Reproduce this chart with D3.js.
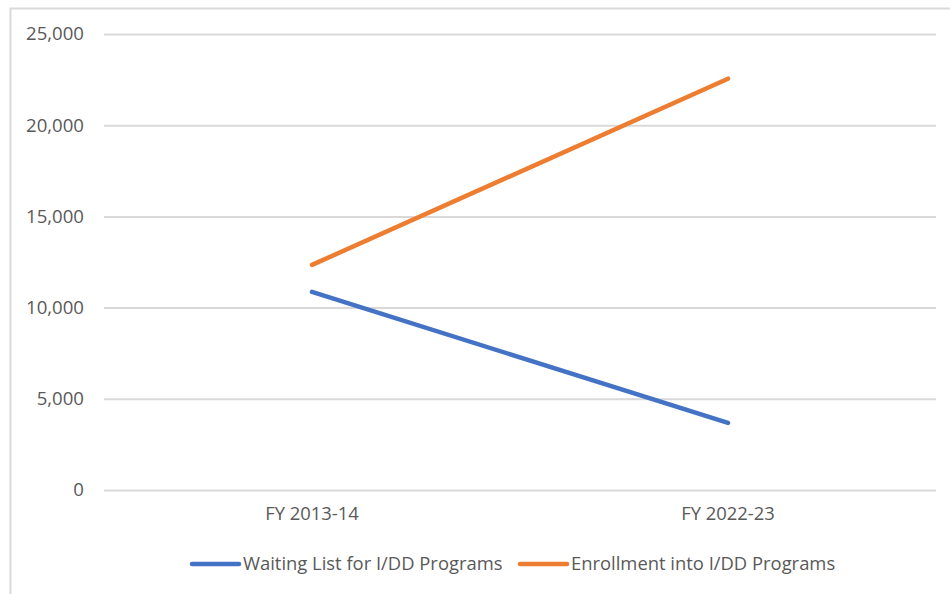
<!doctype html>
<html>
<head>
  <meta charset="utf8">
  <title>I/DD waiting list vs enrollment</title>
  <style>
    body {
      margin: 0;
      padding: 0;
      background: #fff;
    }
    svg text {
      font-family: "Open Sans", sans-serif;
      fill: #595959;
    }
  </style>
</head>
<body>
  <svg id="chart"></svg>

  <script src="https://d3js.org/d3.v7.min.js"></script>
  <script>
    // values
    const categories = ['FY 2013-14', 'FY 2022-23']
    const seriesNames = ['Waiting List for I/DD Programs', 'Enrollment into I/DD Programs']
    const waitingList = [10860, 3680]
    const enrollment = [12340, 22550]
    const yTicks = [0, 5000, 10000, 15000, 20000, 25000]
    const colors = ['#4472C4', '#ED7D31']

    const width = 950
    const height = 594
    const margin = { top: 34, right: 14, bottom: 104, left: 104 }
    const fontSize = '18.4px'

    const svg = d3.select('#chart')
      .attr('width', width)
      .attr('height', height)

    // chart frame (only top and left edges are visible in the picture)
    svg.append('path')
      .attr('d', `M10.5,${height}V8.5H${width}`)
      .style('fill', 'none')
      .style('stroke', '#d9d9d9')
      .style('stroke-width', 2)

    const x = d3.scaleBand()
      .domain(categories)
      .range([margin.left, width - margin.right])

    const y = d3.scaleLinear()
      .domain([0, 25000])
      .range([height - margin.bottom, margin.top])

    // gridlines + y labels
    const yAxis = svg.append('g')
      .attr('transform', `translate(${margin.left},0)`)
      .call(d3.axisLeft(y)
        .tickValues(yTicks)
        .tickFormat(d3.format(','))
        .tickSize(-(width - margin.left - margin.right))
        .tickPadding(20))
    yAxis.select('.domain').remove()
    yAxis.selectAll('line')
      .style('stroke', '#d9d9d9')
      .style('stroke-width', 2)
    yAxis.selectAll('text')
      .style('font-size', '18.6px')
      .style('fill', '#595959')

    // category labels
    const xAxis = svg.append('g')
      .attr('transform', `translate(0,${height - margin.bottom})`)
      .call(d3.axisBottom(x).tickSize(0).tickPadding(17))
    xAxis.select('.domain').remove()
    xAxis.selectAll('text')
      .style('font-size', fontSize)
      .style('fill', '#595959')

    const series = [waitingList, enrollment]
    const line = d3.line()
      .x((d, i) => x(categories[i]) + x.bandwidth() / 2)
      .y(d => y(d))

    svg.append('g').selectAll('path')
      .data(series)
      .join('path')
      .attr('d', d => line(d))
      .style('fill', 'none')
      .style('stroke', (d, i) => colors[i])
      .style('stroke-width', 4.5)
      .style('stroke-linecap', 'round')

    // legend
    const legendY = 564
    const legendX = [192, 520]
    const legend = svg.append('g').selectAll('g')
      .data(seriesNames)
      .join('g')
      .attr('transform', (d, i) => `translate(${legendX[i]},${legendY})`)

    legend.append('line')
      .attr('x1', 0).attr('x2', 47)
      .style('stroke', (d, i) => colors[i])
      .style('stroke-width', 4.5)
      .style('stroke-linecap', 'round')

    legend.append('text')
      .attr('x', 51)
      .attr('dy', '0.35em')
      .style('font-size', fontSize)
      .text(d => d)
  </script>
</body>
</html>
